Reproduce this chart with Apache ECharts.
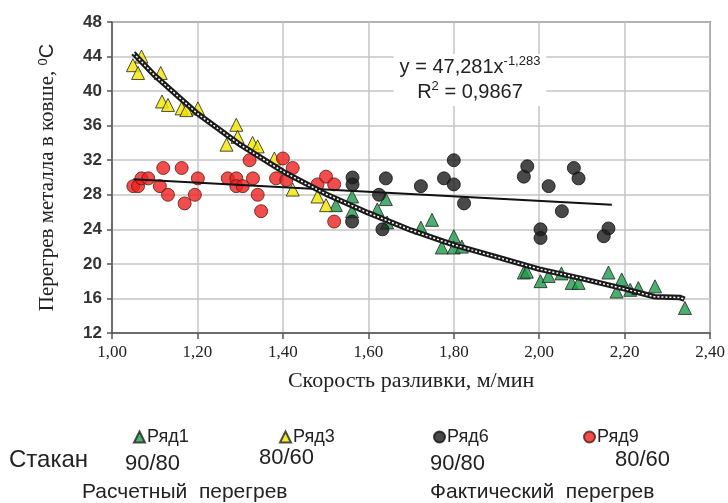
<!DOCTYPE html>
<html>
<head>
<meta charset="utf-8">
<script src="https://cdn.jsdelivr.net/npm/echarts@6/dist/echarts.min.js"></script>
<style>
  html, body { margin: 0; padding: 0; background: #fff; }
  #chart { width: 728px; height: 503px; }
</style>
</head>
<body>
<div id="chart"></div>
<script>
// Ряд1 – расчетный перегрев, стакан 90/80
const row1 = [
  [1.524, 26.8], [1.562, 27.8], [1.562, 26.1], [1.621, 26.3], [1.641, 27.5], [1.644, 24.8],
  [1.723, 24.2], [1.749, 25.1], [1.772, 21.9], [1.800, 23.2], [1.800, 21.9], [1.819, 22.0],
  [1.964, 19.0], [1.971, 19.1], [2.003, 18.0], [2.022, 18.6], [2.052, 18.9], [2.076, 17.8],
  [2.092, 17.8], [2.162, 19.0], [2.193, 18.2], [2.181, 16.8], [2.213, 17.0], [2.232, 17.2],
  [2.271, 17.4], [2.341, 14.9]
];
// Ряд3 – расчетный перегрев, стакан 80/60
const row3 = [
  [1.049, 43.0], [1.061, 42.1], [1.069, 44.0], [1.114, 42.1], [1.117, 38.8], [1.131, 38.4],
  [1.163, 38.0], [1.174, 37.8], [1.201, 38.0], [1.291, 36.1], [1.294, 34.7], [1.268, 33.8],
  [1.329, 34.0], [1.341, 33.6], [1.380, 32.2], [1.423, 28.6], [1.481, 27.8], [1.501, 26.8]
];
// Ряд6 – фактический перегрев, стакан 90/80
const row6 = [
  [1.563, 30.0], [1.563, 29.2], [1.562, 24.9], [1.641, 29.9], [1.625, 28.0], [1.633, 24.0],
  [1.723, 29.0], [1.777, 29.9], [1.800, 32.0], [1.800, 29.2], [1.824, 27.0], [1.964, 30.1],
  [1.972, 31.3], [2.022, 29.0], [2.053, 26.1], [2.003, 24.0], [2.003, 23.0], [2.081, 31.1],
  [2.092, 29.9], [2.162, 24.1], [2.151, 23.2]
];
// Ряд9 – фактический перегрев, стакан 80/60
const row9 = [
  [1.050, 29.0], [1.061, 29.0], [1.069, 29.9], [1.085, 29.9], [1.120, 31.1], [1.112, 29.0],
  [1.131, 28.0], [1.163, 31.1], [1.170, 27.0], [1.194, 28.0], [1.201, 29.9], [1.271, 29.9],
  [1.291, 29.9], [1.291, 29.0], [1.306, 29.0], [1.322, 32.0], [1.330, 29.9], [1.341, 28.0],
  [1.349, 26.1], [1.384, 29.9], [1.400, 32.2], [1.408, 29.7], [1.423, 31.1], [1.481, 29.2],
  [1.501, 30.1], [1.520, 29.2], [1.520, 24.9]
];
// линии тренда
const powerTrend = [
  [1.05, 44.4], [1.10, 41.8], [1.20, 37.4], [1.30, 33.8], [1.40, 30.7], [1.50, 28.1],
  [1.60, 25.9], [1.70, 23.9], [1.80, 22.2], [1.90, 20.8], [2.00, 19.4], [2.10, 18.3],
  [2.20, 17.1], [2.27, 16.2], [2.33, 16.1], [2.34, 15.9]
];
const linearTrend = [[1.05, 29.8], [2.17, 26.85]];

const chart = echarts.init(document.getElementById('chart'), null, { renderer: 'canvas' });

const serif = "'Liberation Serif', 'Times New Roman', serif";
const sans = "'Liberation Sans', Arial, sans-serif";

const triangleStyle = (color) => ({ color: color, borderColor: '#222', borderWidth: 1 });

// у каждой записи легенды своя позиция, как в исходнике
const legendAt = (name, left) => ({
  data: [name],
  left: left,
  top: 423,
  itemWidth: 11,
  itemHeight: 11,
  itemGap: 2,
  textStyle: { fontFamily: sans, fontSize: 18, color: '#222', padding: [0, 0, 0, -3] }
});

const option = {
  animation: false,
  backgroundColor: '#fff',
  grid: { left: 112, right: 16, top: 22, bottom: 170, show: true, borderColor: '#555', borderWidth: 1.5 },
  legend: [
    legendAt('Ряд1', 128),
    legendAt('Ряд3', 274),
    legendAt('Ряд6', 428),
    legendAt('Ряд9', 578)
  ],
  xAxis: {
    type: 'value',
    min: 1,
    max: 2.4,
    interval: 0.2,
    name: 'Скорость разливки, м/мин',
    nameLocation: 'middle',
    nameGap: 37,
    nameTextStyle: { fontFamily: serif, fontSize: 22, color: '#222' },
    axisLine: { show: true, lineStyle: { color: '#555', width: 1.5 } },
    axisTick: { show: true, length: 6, lineStyle: { color: '#555', width: 1.5 } },
    axisLabel: {
      fontFamily: serif, fontSize: 17, color: '#222', margin: 11,
      formatter: (v) => v.toFixed(2).replace('.', ',')
    },
    splitLine: { show: true, lineStyle: { color: '#c4c4c4', width: 1.5 } }
  },
  yAxis: {
    type: 'value',
    min: 12,
    max: 48,
    interval: 4,
    name: '{t|Перегрев металла в ковше, }{s|0}{c|C}',
    nameLocation: 'middle',
    nameRotate: 90,
    nameGap: 54,
    nameTextStyle: {
      rich: {
        t: { fontFamily: serif, fontSize: 21, color: '#222' },
        s: { fontFamily: sans, fontSize: 13, color: '#222', verticalAlign: 'top', padding: [0, 0, 8, 0] },
        c: { fontFamily: sans, fontSize: 20, color: '#222' }
      }
    },
    axisLine: { show: true, lineStyle: { color: '#555', width: 1.5 } },
    axisTick: { show: true, length: 5, lineStyle: { color: '#555', width: 1.5 } },
    axisLabel: { fontFamily: sans, fontSize: 17, fontWeight: 'bold', color: '#333', margin: 10 },
    splitLine: { show: true, lineStyle: { color: '#c4c4c4', width: 1.5 } }
  },
  series: [
    {
      name: 'Ряд1', type: 'scatter', symbol: 'triangle', symbolSize: 13,
      itemStyle: triangleStyle('#1e9c4b'), data: row1, z: 3
    },
    {
      name: 'Ряд3', type: 'scatter', symbol: 'triangle', symbolSize: 13,
      itemStyle: triangleStyle('#f2e600'), data: row3, z: 3
    },
    {
      name: 'Ряд6', type: 'scatter', symbol: 'circle', symbolSize: 13,
      itemStyle: { color: '#1b1b1b', borderColor: '#111', borderWidth: 1 }, data: row6, z: 3
    },
    {
      name: 'Ряд9', type: 'scatter', symbol: 'circle', symbolSize: 13,
      itemStyle: { color: '#ee2020', borderColor: '#5a1a10', borderWidth: 1 }, data: row9, z: 4
    },
    {
      type: 'line', data: powerTrend, showSymbol: false, silent: true, z: 5,
      lineStyle: { color: '#1a1a1a', width: 5.5 }
    },
    {
      type: 'line', data: powerTrend, showSymbol: false, silent: true, z: 6,
      lineStyle: { color: '#fff', width: 1.5, type: [2, 2] }
    },
    {
      type: 'line', data: linearTrend, showSymbol: false, silent: true, z: 5,
      lineStyle: { color: '#111', width: 2 }
    }
  ],
  graphic: [
    {
      type: 'text', x: 470, y: 54, z: 10,
      style: {
        text: '{a|y = 47,281x}{s|-1,283}\n{a|R}{s|2}{a| = 0,9867}',
        align: 'center',
        verticalAlign: 'top',
        backgroundColor: '#fff',
        padding: [1, 6, 1, 6],
        rich: {
          a: { fontFamily: sans, fontSize: 20, fill: '#222', lineHeight: 25 },
          s: { fontFamily: sans, fontSize: 13, fill: '#222', verticalAlign: 'top', lineHeight: 25 }
        }
      }
    },
    { type: 'text', left: 9, top: 448, style: { text: 'Стакан', font: '24px ' + sans, fill: '#222' } },
    { type: 'text', left: 125, top: 453, style: { text: '90/80', font: '22px ' + sans, fill: '#222' } },
    { type: 'text', left: 259, top: 447, style: { text: '80/60', font: '22px ' + sans, fill: '#222' } },
    { type: 'text', left: 430, top: 453, style: { text: '90/80', font: '22px ' + sans, fill: '#222' } },
    { type: 'text', left: 615, top: 449, style: { text: '80/60', font: '22px ' + sans, fill: '#222' } },
    { type: 'text', left: 82, top: 482, style: { text: 'Расчетный  перегрев', font: '21px ' + sans, fill: '#222' } },
    { type: 'text', left: 430, top: 482, style: { text: 'Фактический  перегрев', font: '21px ' + sans, fill: '#222' } }
  ]
};

chart.setOption(option);
</script>
</body>
</html>
